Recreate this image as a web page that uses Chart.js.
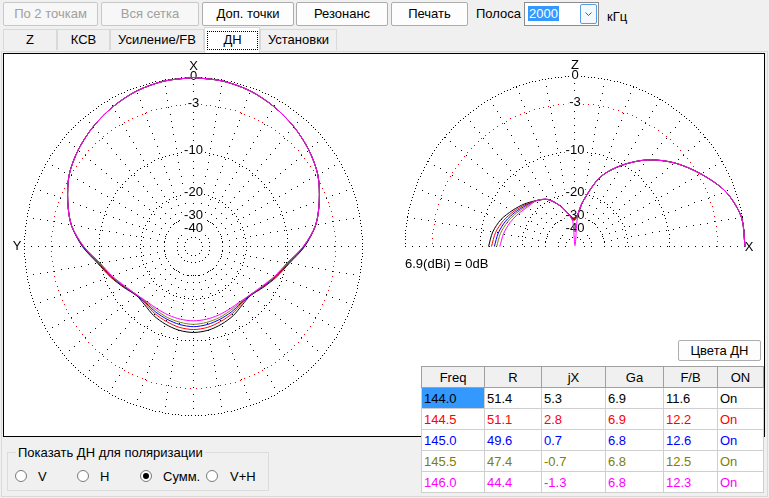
<!DOCTYPE html>
<html>
<head>
<meta charset="utf-8">
<script src="https://cdn.jsdelivr.net/npm/chart.js"></script>
<style>
body{margin:0;width:769px;height:498px;background:#f0f0f0;font:13px Arial,"Liberation Sans",sans-serif;color:#000;position:relative;overflow:hidden}
.btn{position:absolute;top:2px;height:24px;box-sizing:border-box;border:1px solid #adadad;background:#fdfdfd;border-radius:2px;text-align:center;line-height:22px}
.btn.dis{color:#a0a0a0;border-color:#c8c8c8;background:#f7f7f7}
.lbl{position:absolute;line-height:15px;white-space:nowrap}
.tab{position:absolute;top:29px;height:21px;box-sizing:border-box;border:1px solid #d9d9d9;border-bottom:none;background:#f0f0f0;text-align:center;line-height:20px}
.tab.on{top:27px;height:26px;background:#fff;z-index:2}
.tab.on span{display:block;margin:3px 1px 0 2px;height:17px;line-height:16px;border:1px dotted #000}
#page{position:absolute;left:1px;top:51px;width:767px;height:446px;box-sizing:border-box;border:1px solid #d9d9d9}
#panel{position:absolute;left:3px;top:53px;width:762px;height:384px;box-sizing:border-box;border:1px solid #000;background:#fff}
canvas{position:absolute}
#tbl{position:absolute;left:421px;top:366px;border-collapse:collapse;table-layout:fixed;background:#fff;border:1px solid #a0a0a0}
#tbl th{background:#f0f0f0;font-weight:normal;height:20px;padding:0;border:1px solid #a0a0a0;text-align:center}
#tbl td{height:20px;padding:0 0 0 2px;border:1px solid #cfcfcf;text-align:left;white-space:nowrap}
#tbl td.sel{background:#3399ff}
.radio{position:absolute;top:470px;width:12px;height:12px;box-sizing:border-box;border:1px solid #7a7a7a;border-radius:50%;background:#fff}
.radio.chk::after{content:"";position:absolute;left:2px;top:2px;width:6px;height:6px;border-radius:50%;background:#000}
</style>
</head>
<body>
<div class="btn dis" style="left:3px;width:95px">По 2 точкам</div>
<div class="btn dis" style="left:101px;width:98px">Вся сетка</div>
<div class="btn" style="left:202px;width:92px">Доп. точки</div>
<div class="btn" style="left:296px;width:92px">Резонанс</div>
<div class="btn" style="left:391px;width:77px">Печать</div>
<div class="lbl" style="left:476px;top:6px">Полоса</div>
<div style="position:absolute;left:524px;top:2px;width:75px;height:24px;box-sizing:border-box;border:1px solid #8c8c8c;background:#fff">
  <div style="position:absolute;left:3px;top:3px;height:15px;line-height:15px;padding:0 1px;background:#3399ff;color:#fff">2000</div>
  <div style="position:absolute;left:55px;top:1px;width:17px;height:20px;box-sizing:border-box;border:1px solid #5b9be0;border-radius:2px;background:#f4f9fe">
    <svg width="15" height="18" style="position:absolute;left:0;top:0"><polyline points="4.5,7.5 7.5,10.5 10.5,7.5" fill="none" stroke="#555" stroke-width="1"/></svg>
  </div>
</div>
<div class="lbl" style="left:607px;top:9px">кГц</div>

<div id="page"></div>
<div class="tab" style="left:3px;width:54px">Z</div>
<div class="tab" style="left:57px;width:53px">КСВ</div>
<div class="tab" style="left:110px;width:94px">Усиление/FB</div>
<div class="tab on" style="left:204px;width:56px"><span>ДН</span></div>
<div class="tab" style="left:260px;width:77px">Установки</div>

<div id="panel"></div>
<canvas id="hplot" width="379" height="378" style="left:4px;top:57px"></canvas>
<canvas id="vplot" width="370" height="223" style="left:392px;top:57px"></canvas>

<div class="btn" style="left:678px;top:340px;width:83px;height:21px;line-height:19px">Цвета ДН</div>
<table id="tbl">
  <colgroup><col style="width:63px"><col style="width:57px"><col style="width:64px"><col style="width:58px"><col style="width:54px"><col style="width:46px"></colgroup>
  <tbody id="tbody"></tbody>
</table>

<div style="position:absolute;left:7px;top:452px;width:262px;height:39px;box-sizing:border-box;border:1px solid #dcdcdc"></div>
<div class="lbl" style="left:16px;top:445px;padding:0 2px;background:#f0f0f0">Показать ДН для поляризации</div>
<div class="radio" style="left:15px"></div><div class="lbl" style="left:38px;top:469px">V</div>
<div class="radio" style="left:77px"></div><div class="lbl" style="left:100px;top:469px">H</div>
<div class="radio chk" style="left:140px"></div><div class="lbl" style="left:163px;top:469px">Сумм.</div>
<div class="radio" style="left:206px"></div><div class="lbl" style="left:230px;top:469px">V+H</div>

<script>
// series colours (one per frequency)
const seriesColors = ['#000000', '#ff0000', '#0000ff', '#808000', '#ff00ff'];

// horizontal pattern, dB vs azimuth from X (symmetric, 0..180)
const hAngles  = [0, 10, 20, 30, 40, 50, 60, 70, 80, 90, 100, 110, 120, 131, 140, 150, 160, 170, 180];
const hBlack   = [0, -0.1, -0.35, -0.8, -1.35, -2.0, -2.8, -4.0, -5.3, -7.2, -9.5, -11.1, -12.6, -13.9, -13.7, -12.9, -12.3, -11.8, -11.6];
const hRed     = [0, -0.1, -0.35, -0.8, -1.35, -2.0, -2.8, -4.0, -5.3, -7.3, -9.6, -11.2, -12.7, -14.0, -14.0, -13.4, -12.9, -12.4, -12.2];
const hBlue    = [0, -0.1, -0.35, -0.8, -1.35, -2.0, -2.8, -4.0, -5.3, -7.3, -9.7, -11.3, -12.8, -14.0, -14.2, -13.8, -13.4, -13.0, -12.8];
const hOlive   = [0, -0.1, -0.35, -0.8, -1.35, -2.0, -2.8, -4.0, -5.3, -7.4, -9.8, -11.4, -12.9, -14.1, -14.4, -14.2, -13.8, -13.5, -13.3];
const hMagenta = [0, -0.1, -0.35, -0.8, -1.35, -2.0, -2.8, -4.0, -5.3, -7.4, -9.9, -11.5, -13.0, -14.1, -14.6, -14.6, -14.4, -14.2, -14.1];

// vertical pattern, dB vs elevation from X horizon (0..180)
const vAngles  = [0, 10, 20, 30, 40, 50, 60, 70, 80, 85, 90, 95, 100, 110, 120, 130, 140, 150, 160, 170, 180];
const vBlack   = [0, -0.1, -1.0, -2.7, -4.6, -7.0, -10.2, -14.3, -22.5, -28.5, -30.5, -30.5, -28.5, -23.5, -19.6, -17.9, -16.2, -14.7, -13.2, -12.2, -11.6];
const vRed     = [0, -0.1, -1.0, -2.7, -4.6, -7.0, -10.2, -14.3, -22.5, -28.5, -31.0, -31.0, -28.6, -23.5, -19.6, -17.9, -16.5, -15.1, -13.8, -12.8, -12.2];
const vBlue    = [0, -0.1, -1.0, -2.7, -4.6, -7.0, -10.2, -14.3, -22.5, -28.6, -31.5, -31.5, -28.7, -23.5, -19.6, -17.9, -16.8, -15.5, -14.3, -13.4, -12.8];
const vOlive   = [0, -0.1, -1.0, -2.7, -4.6, -7.0, -10.2, -14.3, -22.5, -28.7, -32.0, -32.0, -28.8, -23.5, -19.6, -17.9, -17.1, -15.9, -14.8, -13.9, -13.3];
const vMagenta = [0, -0.1, -1.0, -2.7, -4.6, -7.0, -10.2, -14.3, -22.5, -29.0, -90.0, -33.0, -28.9, -23.6, -19.6, -17.9, -17.4, -16.4, -15.4, -14.6, -14.0];

// grid rings and labels (dB)
const gridRings  = [0, -3, -10, -20, -30, -40, -50];
const ringLabels = [0, -3, -10, -20, -30, -40];

// table
const tableHeads = ['Freq', 'R', 'jX', 'Ga', 'F/B', 'ON'];
const freqs  = ['144.0', '144.5', '145.0', '145.5', '146.0'];
const rVals  = ['51.4', '51.1', '49.6', '47.4', '44.4'];
const jxVals = ['5.3', '2.8', '0.7', '-0.7', '-1.3'];
const gaVals = ['6.9', '6.9', '6.8', '6.8', '6.8'];
const fbVals = ['11.6', '12.2', '12.6', '12.5', '12.3'];
const onVals = ['On', 'On', 'On', 'On', 'On'];

let rows = '<tr>' + tableHeads.map(h => '<th>' + h + '</th>').join('') + '</tr>';
freqs.forEach((f, i) => {
  rows += '<tr style="color:' + seriesColors[i] + '">' +
    '<td' + (i === 0 ? ' class="sel"' : '') + '>' + f + '</td>' +
    '<td>' + rVals[i] + '</td><td>' + jxVals[i] + '</td><td>' + gaVals[i] + '</td>' +
    '<td>' + fbVals[i] + '</td><td>' + onVals[i] + '</td></tr>';
});
document.getElementById('tbody').innerHTML = rows;

// ARRL log scale: 0 dB -> 1
function arrl(db) { return Math.pow(0.89, -db / 2); }
const deg = Math.PI / 180;

function horizPoints(vals) {
  const left = hAngles.map((a, i) => ({x: -arrl(vals[i]) * Math.sin(a * deg), y: arrl(vals[i]) * Math.cos(a * deg)}));
  const right = left.slice(0, -1).reverse().map(p => ({x: -p.x, y: p.y}));
  return left.concat(right);
}
function vertPoints(vals) {
  return vAngles.map((a, i) => ({x: arrl(vals[i]) * Math.cos(a * deg), y: arrl(vals[i]) * Math.sin(a * deg)}));
}

const polarGrid = {
  id: 'polarGrid',
  beforeDatasetsDraw(chart, args, o) {
    const {ctx} = chart;
    const sx = chart.scales.x, sy = chart.scales.y;
    const cx = sx.getPixelForValue(0), cy = sy.getPixelForValue(0);
    const rad = db => sx.getPixelForValue(arrl(db)) - cx;
    const dot = (x, y) => ctx.fillRect(Math.round(x - 0.5), Math.round(y - 0.5), 1, 1);
    ctx.save();
    // spokes every 10 degrees, from the -30 ring out
    ctx.fillStyle = '#000';
    const r0 = rad(-30), r1 = rad(0);
    for (let a = 0; a <= (o.half ? 180 : 350); a += 10) {
      for (let r = r0; r <= r1; r += 7) {
        dot(cx + r * Math.cos(a * deg), cy - r * Math.sin(a * deg));
      }
    }
    // dotted rings
    gridRings.forEach(db => {
      const r = rad(db);
      const step = db === 0 ? 3.3 : db === -3 ? 5 : 4;
      const n = Math.round(2 * Math.PI * r / step);
      ctx.fillStyle = db === -3 ? '#ff0000' : '#000';
      for (let k = 0; k <= n; k++) {
        const t = k / n * 2 * Math.PI;
        if (o.half && Math.sin(t) < -0.001) continue;
        dot(cx + r * Math.cos(t), cy - r * Math.sin(t));
      }
    });
    ctx.font = '13px Arial, "Liberation Sans", sans-serif';
    ctx.textBaseline = 'middle';
    ctx.textAlign = 'center';
    const label = (txt, x, y) => {
      const w = ctx.measureText(txt).width;
      ctx.fillStyle = '#fff';
      ctx.fillRect(x - w / 2 - 1, y - 6, w + 2, 12);
      ctx.fillStyle = '#000';
      ctx.fillText(txt, x, y);
    };
    ringLabels.forEach(db => label(String(db), cx, cy - rad(db) - 1.5));
    ctx.fillStyle = '#000';
    ctx.fillText(o.top, cx, cy - r1 - 11);
    if (o.half) {
      ctx.fillText(o.side, cx + r1 + 4, cy + 1);
      ctx.textAlign = 'left';
      ctx.fillText(o.note, cx - r1, cy + 18);
    } else {
      ctx.fillText(o.side, cx - r1 - 7.5, cy);
    }
    ctx.restore();
  }
};

function makeSets(series, toPoints) {
  return series.map((vals, i) => ({
    data: toPoints(vals),
    showLine: true,
    borderColor: seriesColors[i],
    borderWidth: 1,
    pointRadius: 0,
    tension: 0.3,
    order: series.length - i
  }));
}

function polarChart(id, sets, box, grid) {
  return new Chart(document.getElementById(id), {
    type: 'scatter',
    data: {datasets: sets},
    options: {
      responsive: false,
      animation: false,
      events: [],
      layout: {padding: 0},
      plugins: {legend: {display: false}, tooltip: {enabled: false}, polarGrid: grid},
      scales: {
        x: {type: 'linear', display: false, min: -box.cx / box.r, max: (box.w - box.cx) / box.r},
        y: {type: 'linear', display: false, min: -(box.h - box.cy) / box.r, max: box.cy / box.r}
      }
    },
    plugins: [polarGrid]
  });
}

polarChart('hplot', makeSets([hBlack, hRed, hBlue, hOlive, hMagenta], horizPoints),
  {w: 379, h: 378, cx: 189.5, cy: 189.5, r: 169},
  {half: false, top: 'X', side: 'Y'});

polarChart('vplot', makeSets([vBlack, vRed, vBlue, vOlive, vMagenta], vertPoints),
  {w: 370, h: 223, cx: 183, cy: 189.5, r: 170},
  {half: true, top: 'Z', side: 'X', note: '6.9(dBi) = 0dB'});
</script>
</body>
</html>
